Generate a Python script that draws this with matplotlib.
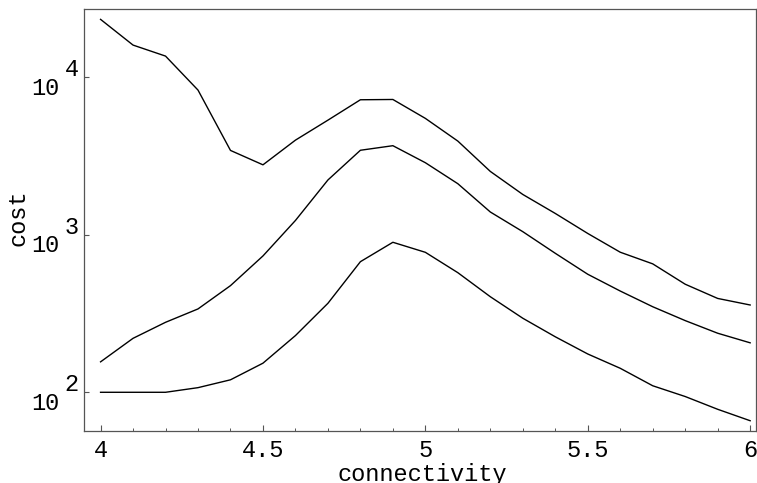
import matplotlib
matplotlib.use("Agg")
import matplotlib.pyplot as plt
import numpy as np

# connectivity values (x) and three cost curves (log scale)
connectivity = [4.0, 4.1, 4.2, 4.3, 4.4, 4.5, 4.6, 4.7, 4.8, 4.9, 5.0,
                5.1, 5.2, 5.3, 5.4, 5.5, 5.6, 5.7, 5.8, 5.9, 6.0]
cost_high = [23240, 15960, 13590, 8270, 3425, 2775, 3980, 5330, 7180, 7210, 5470,
             3925, 2520, 1800, 1364, 1018, 774, 653, 485, 394, 358]
cost_mid = [156, 220, 278, 338, 475, 733, 1231, 2224, 3433, 3670, 2862,
            2106, 1393, 1045, 762, 561, 439, 349, 285, 237, 206]
cost_low = [100, 100, 100, 107, 120, 153, 229, 367, 674, 895, 773,
            574, 404, 295, 225, 175, 142, 110, 94, 78, 66]

x_ticks = [4, 4.5, 5, 5.5, 6]
x_ticklabels = ["4", "4.5", "5", "5.5", "6"]
y_exponents = [2, 3, 4]

font = "Liberation Mono"
fs = 17

fig = plt.figure(figsize=(7.57, 4.83), dpi=100)
ax = fig.add_axes([84 / 757, 52 / 483, 672 / 757, 422 / 483])

for c in (cost_high, cost_mid, cost_low):
    ax.plot(connectivity, c, color="black", lw=1.0)

ax.set_yscale("log")
ax.set_xlim(3.949, 6.018)
ax.set_ylim(56.8, 27040)

spine_col = "#555555"
for s in ax.spines.values():
    s.set_color(spine_col)
    s.set_linewidth(0.9)

# x axis ticks
ax.set_xticks(x_ticks)
ax.set_xticklabels(x_ticklabels, fontfamily=font, fontsize=fs)
ax.set_xticks(np.arange(4.0, 6.01, 0.1), minor=True)
ax.tick_params(axis="x", which="major", direction="in", length=4, width=0.8,
               color=spine_col, pad=6)
ax.tick_params(axis="x", which="minor", direction="in", length=2.5, width=0.7,
               color=spine_col)

# y axis ticks: only decades, labels drawn as 10 with raised exponent
ax.set_yticks([10.0 ** e for e in y_exponents])
ax.set_yticklabels([])
ax.yaxis.set_minor_locator(matplotlib.ticker.NullLocator())
ax.tick_params(axis="y", which="major", direction="in", length=3.5, width=0.8,
               color=spine_col)
ytr = ax.get_yaxis_transform()
for e in y_exponents:
    ax.annotate("10", xy=(0, 10.0 ** e), xycoords=ytr, xytext=(-17.5, -8),
                textcoords="offset points", ha="right", va="center",
                fontfamily=font, fontsize=fs)
    ax.annotate(str(e), xy=(0, 10.0 ** e), xycoords=ytr, xytext=(-14, 5.5),
                textcoords="offset points", ha="left", va="center",
                fontfamily=font, fontsize=fs)

ax.set_xlabel("connectivity", fontfamily=font, fontsize=fs, va="center")
ax.xaxis.set_label_coords(0.504, -0.102)
ax.set_ylabel("cost", fontfamily=font, fontsize=fs, va="center")
ax.yaxis.set_label_coords(-0.098, 0.505)

fig.savefig("out.png", dpi=100)
